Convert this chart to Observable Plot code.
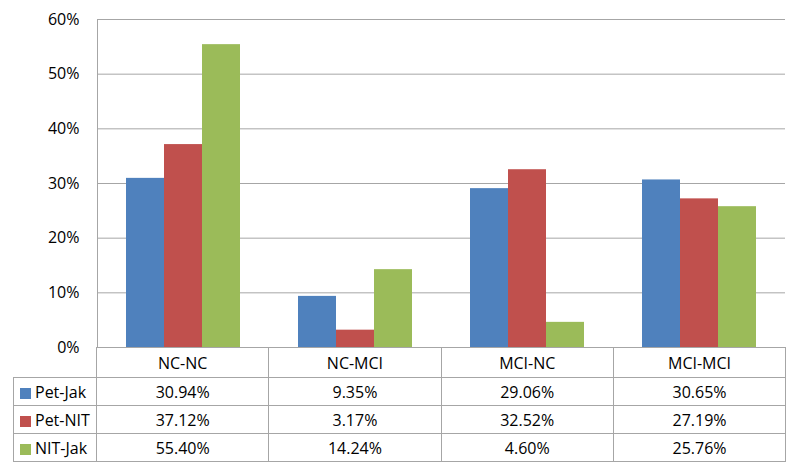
<!DOCTYPE html>
<html>
<head>
<meta charset="utf-8">
<script src="https://cdn.jsdelivr.net/npm/d3@7"></script>
<script src="https://cdn.jsdelivr.net/npm/@observablehq/plot@0.6"></script>
<style>
  html, body { margin: 0; padding: 0; background: #fff; }
  #wrap { position: relative; width: 800px; height: 476px; overflow: hidden; font-family: "Open Sans", sans-serif; }
  #chart { position: absolute; left: 0; top: 0; }
  #tbl { position: absolute; left: 13px; top: 347px; border-collapse: collapse; table-layout: fixed; font-family: "Open Sans", sans-serif; font-size: 16px; color: #000; }
  #tbl td { border: 1px solid #a6a6a6; text-align: center; padding: 0; line-height: 20px; white-space: nowrap; }
  #tbl tr.head td { height: 29px; }
  #tbl tr.body td { height: 27px; }
  #tbl td.corner { border: none; border-right: 1px solid #a6a6a6; background: transparent; }
  #tbl td.name { text-align: left; padding-left: 6px; }
  .key { display: inline-block; width: 11px; height: 11px; margin-right: 4px; vertical-align: -1px; }
</style>
</head>
<body>
<div id="wrap">
  <div id="chart"></div>
  <table id="tbl"></table>
</div>
<script>
const categories = ["NC-NC", "NC-MCI", "MCI-NC", "MCI-MCI"];
const series = ["Pet-Jak", "Pet-NIT", "NIT-Jak"];
const petJak = [30.94, 9.35, 29.06, 30.65];
const petNIT = [37.12, 3.17, 32.52, 27.19];
const nitJak = [55.40, 14.24, 4.60, 25.76];
const colors = ["#4F81BD", "#C0504D", "#9BBB59"];
const yTicks = [0, 0.1, 0.2, 0.3, 0.4, 0.5, 0.6];

const seriesValues = [petJak, petNIT, nitJak];
const data = [];
categories.forEach((c, i) => {
  series.forEach((s, j) => {
    data.push({cat: c, series: s, value: seriesValues[j][i] / 100});
  });
});

const chart = Plot.plot({
  width: 800,
  height: 360,
  marginTop: 19,
  marginBottom: 13,
  marginLeft: 96,
  marginRight: 15,
  style: {fontFamily: "Open Sans, sans-serif", fontSize: "16px", color: "#000", overflow: "visible"},
  fx: {domain: categories, padding: 0, axis: null},
  x: {domain: series, paddingInner: 0, paddingOuter: 0.763, axis: null},
  y: {domain: [0, 0.6], axis: null},
  color: {domain: series, range: colors},
  marks: [
    Plot.gridY(yTicks, {stroke: "#a6a6a6", strokeOpacity: 1}),
    Plot.axisY(yTicks, {tickSize: 0, tickPadding: 18, label: null, tickFormat: d => Math.round(d * 100) + "%", fontSize: 16, fill: "#000"}),
    Plot.frame({anchor: "left", facetAnchor: "left", stroke: "#a6a6a6"}),
    Plot.barY(data, {fx: "cat", x: "series", y: "value", fill: "series"})
  ]
});
document.getElementById("chart").appendChild(chart);

// data table below the chart
const tbl = d3.select("#tbl");
const colg = tbl.append("colgroup");
colg.append("col").style("width", "83px");
categories.forEach(() => colg.append("col").style("width", "172.3px"));
const head = tbl.append("tr").attr("class", "head");
head.append("td").attr("class", "corner");
categories.forEach(c => head.append("td").text(c));
series.forEach((s, j) => {
  const tr = tbl.append("tr").attr("class", "body");
  const nameTd = tr.append("td").attr("class", "name");
  nameTd.append("span").attr("class", "key").style("background", colors[j]);
  nameTd.append("span").text(s);
  seriesValues[j].forEach(v => tr.append("td").text(v.toFixed(2) + "%"));
});
</script>
</body>
</html>
